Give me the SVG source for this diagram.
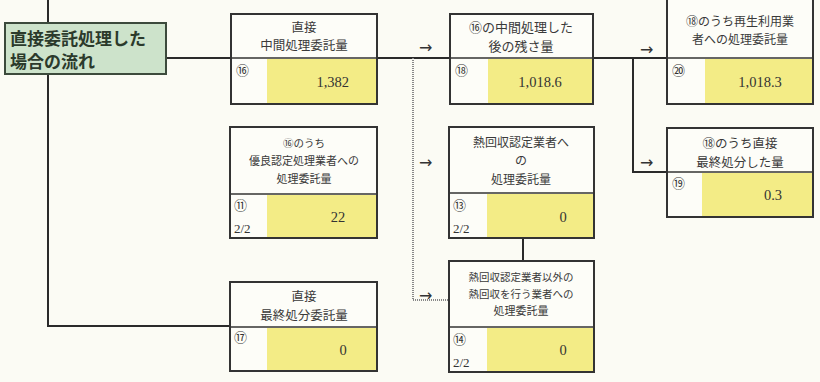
<svg xmlns="http://www.w3.org/2000/svg" width="820" height="382" viewBox="0 0 820 382">
<style>
.box{fill:#fdfdf8;stroke:#333;stroke-width:2}
.yel{fill:#f3ec86}
.div{stroke:#333;stroke-width:1.5}
.ln{fill:none;stroke:#2a2a2a;stroke-width:2}
.dot{fill:none;stroke:#888;stroke-width:2;stroke-dasharray:1 1}
.t{font-family:"Noto Sans CJK JP","Noto Sans CJK SC",sans-serif;fill:#3a3a3a;text-anchor:middle}
.n{font-family:"Liberation Serif","Noto Sans CJK JP",serif;fill:#333;font-size:14.5px}
.lab{font-family:"Liberation Serif","Noto Sans CJK JP",serif;fill:#333;font-size:13px}
.ar{font-family:"DejaVu Sans",sans-serif;fill:#333;font-size:16px}
</style>
<rect width="820" height="382" fill="#fbfbf4"/>
<g id="connectors">
<path class="ln" d="M48 0V23M48 74V326H230"/>
<path class="ln" d="M166 58H667"/>
<path class="ln" d="M633 58V172H667"/>
<path class="dot" d="M413 58V300H449"/>
<path class="ln" d="M523 238V261"/>
<text class="ar" x="419" y="53">→</text>
<text class="ar" x="640" y="55">→</text>
<text class="ar" x="640" y="168">→</text>
<text class="ar" x="419" y="168">→</text>
<text class="ar" x="419" y="301">→</text>
</g>
<g id="title">
<rect x="5" y="23" width="161" height="51" fill="#cde3cb" stroke="#3c4a3c" stroke-width="2"/>
<text x="10" y="45" font-family="Noto Sans CJK JP,sans-serif" font-weight="bold" font-size="17" fill="#2b3a2b">直接委託処理した</text>
<text x="10" y="68" font-family="Noto Sans CJK JP,sans-serif" font-weight="bold" font-size="17" fill="#2b3a2b">場合の流れ</text>
</g>
<g id="n16">
<rect class="box" x="231" y="14" width="146" height="90"/>
<rect class="yel" x="267" y="59" width="110" height="45"/>
<path class="div" d="M231 58H377"/>
<rect x="231" y="14" width="146" height="90" fill="none" stroke="#333" stroke-width="2"/>
<text class="t" x="304" y="32" font-size="12.5">直接</text>
<text class="t" x="304" y="50" font-size="12.5">中間処理委託量</text>
<text class="lab" x="236" y="75">⑯</text>
<text class="n" x="349" y="87" text-anchor="end">1,382</text>
</g>
<g id="n18">
<rect class="box" x="450" y="14" width="143" height="90"/>
<rect class="yel" x="488" y="59" width="105" height="45"/>
<path class="div" d="M450 58H593"/>
<rect x="450" y="14" width="143" height="90" fill="none" stroke="#333" stroke-width="2"/>
<text class="t" x="521" y="32" font-size="13">⑯の中間処理した</text>
<text class="t" x="521" y="51" font-size="13">後の残さ量</text>
<text class="lab" x="455" y="75">⑱</text>
<text class="n" x="540" y="87" text-anchor="middle">1,018.6</text>
</g>
<g id="n20">
<rect class="box" x="667" y="-3" width="146" height="107"/>
<rect class="yel" x="705" y="59" width="108" height="45"/>
<path class="div" d="M667 58H813"/>
<rect x="667" y="-3" width="146" height="107" fill="none" stroke="#333" stroke-width="2"/>
<text class="t" x="740" y="26" font-size="12">⑱のうち再生利用業</text>
<text class="t" x="740" y="44" font-size="12">者への処理委託量</text>
<text class="lab" x="672" y="75">⑳</text>
<text class="n" x="760" y="87" text-anchor="middle">1,018.3</text>
</g>
<g id="n19">
<rect class="box" x="667" y="128" width="146" height="89"/>
<rect class="yel" x="702" y="173" width="111" height="44"/>
<path class="div" d="M667 172H813"/>
<rect x="667" y="128" width="146" height="89" fill="none" stroke="#333" stroke-width="2"/>
<text class="t" x="740" y="148" font-size="12.5">⑱のうち直接</text>
<text class="t" x="740" y="167" font-size="12.5">最終処分した量</text>
<text class="lab" x="672" y="188">⑲</text>
<text class="n" x="773" y="200" text-anchor="middle">0.3</text>
</g>
<g id="n11">
<rect class="box" x="230" y="127" width="147" height="111"/>
<rect class="yel" x="267" y="195" width="110" height="43"/>
<path class="div" d="M230 194H377"/>
<rect x="230" y="127" width="147" height="111" fill="none" stroke="#333" stroke-width="2"/>
<text class="t" x="304" y="147" font-size="10.5">⑯のうち</text>
<text class="t" x="304" y="165" font-size="11">優良認定処理業者への</text>
<text class="t" x="304" y="183" font-size="11">処理委託量</text>
<text class="lab" x="234" y="210">⑪</text>
<text class="lab" x="234" y="233">2/2</text>
<text class="n" x="338" y="222" text-anchor="middle">22</text>
</g>
<g id="n13">
<rect class="box" x="449" y="127" width="145" height="111"/>
<rect class="yel" x="487" y="194" width="107" height="44"/>
<path class="div" d="M449 193H594"/>
<rect x="449" y="127" width="145" height="111" fill="none" stroke="#333" stroke-width="2"/>
<text class="t" x="521" y="147" font-size="12">熱回収認定業者へ</text>
<text class="t" x="521" y="165" font-size="12">の</text>
<text class="t" x="521" y="184" font-size="12">処理委託量</text>
<text class="lab" x="453" y="210">⑬</text>
<text class="lab" x="453" y="233">2/2</text>
<text class="n" x="563" y="222" text-anchor="middle">0</text>
</g>
<g id="n14">
<rect class="box" x="449" y="261" width="145" height="111"/>
<rect class="yel" x="487" y="328" width="107" height="44"/>
<path class="div" d="M449 327H594"/>
<rect x="449" y="261" width="145" height="111" fill="none" stroke="#333" stroke-width="2"/>
<text class="t" x="521" y="281" font-size="10.5">熱回収認定業者以外の</text>
<text class="t" x="521" y="298" font-size="10.5">熱回収を行う業者への</text>
<text class="t" x="521" y="315" font-size="11">処理委託量</text>
<text class="lab" x="453" y="344">⑭</text>
<text class="lab" x="453" y="367">2/2</text>
<text class="n" x="563" y="355" text-anchor="middle">0</text>
</g>
<g id="n17">
<rect class="box" x="230" y="282" width="147" height="89"/>
<rect class="yel" x="267" y="328" width="110" height="43"/>
<path class="div" d="M230 327H377"/>
<rect x="230" y="282" width="147" height="89" fill="none" stroke="#333" stroke-width="2"/>
<text class="t" x="304" y="301" font-size="12.5">直接</text>
<text class="t" x="304" y="320" font-size="12.5">最終処分委託量</text>
<text class="lab" x="234" y="342">⑰</text>
<text class="n" x="343" y="355" text-anchor="middle">0</text>
</g>
</svg>
